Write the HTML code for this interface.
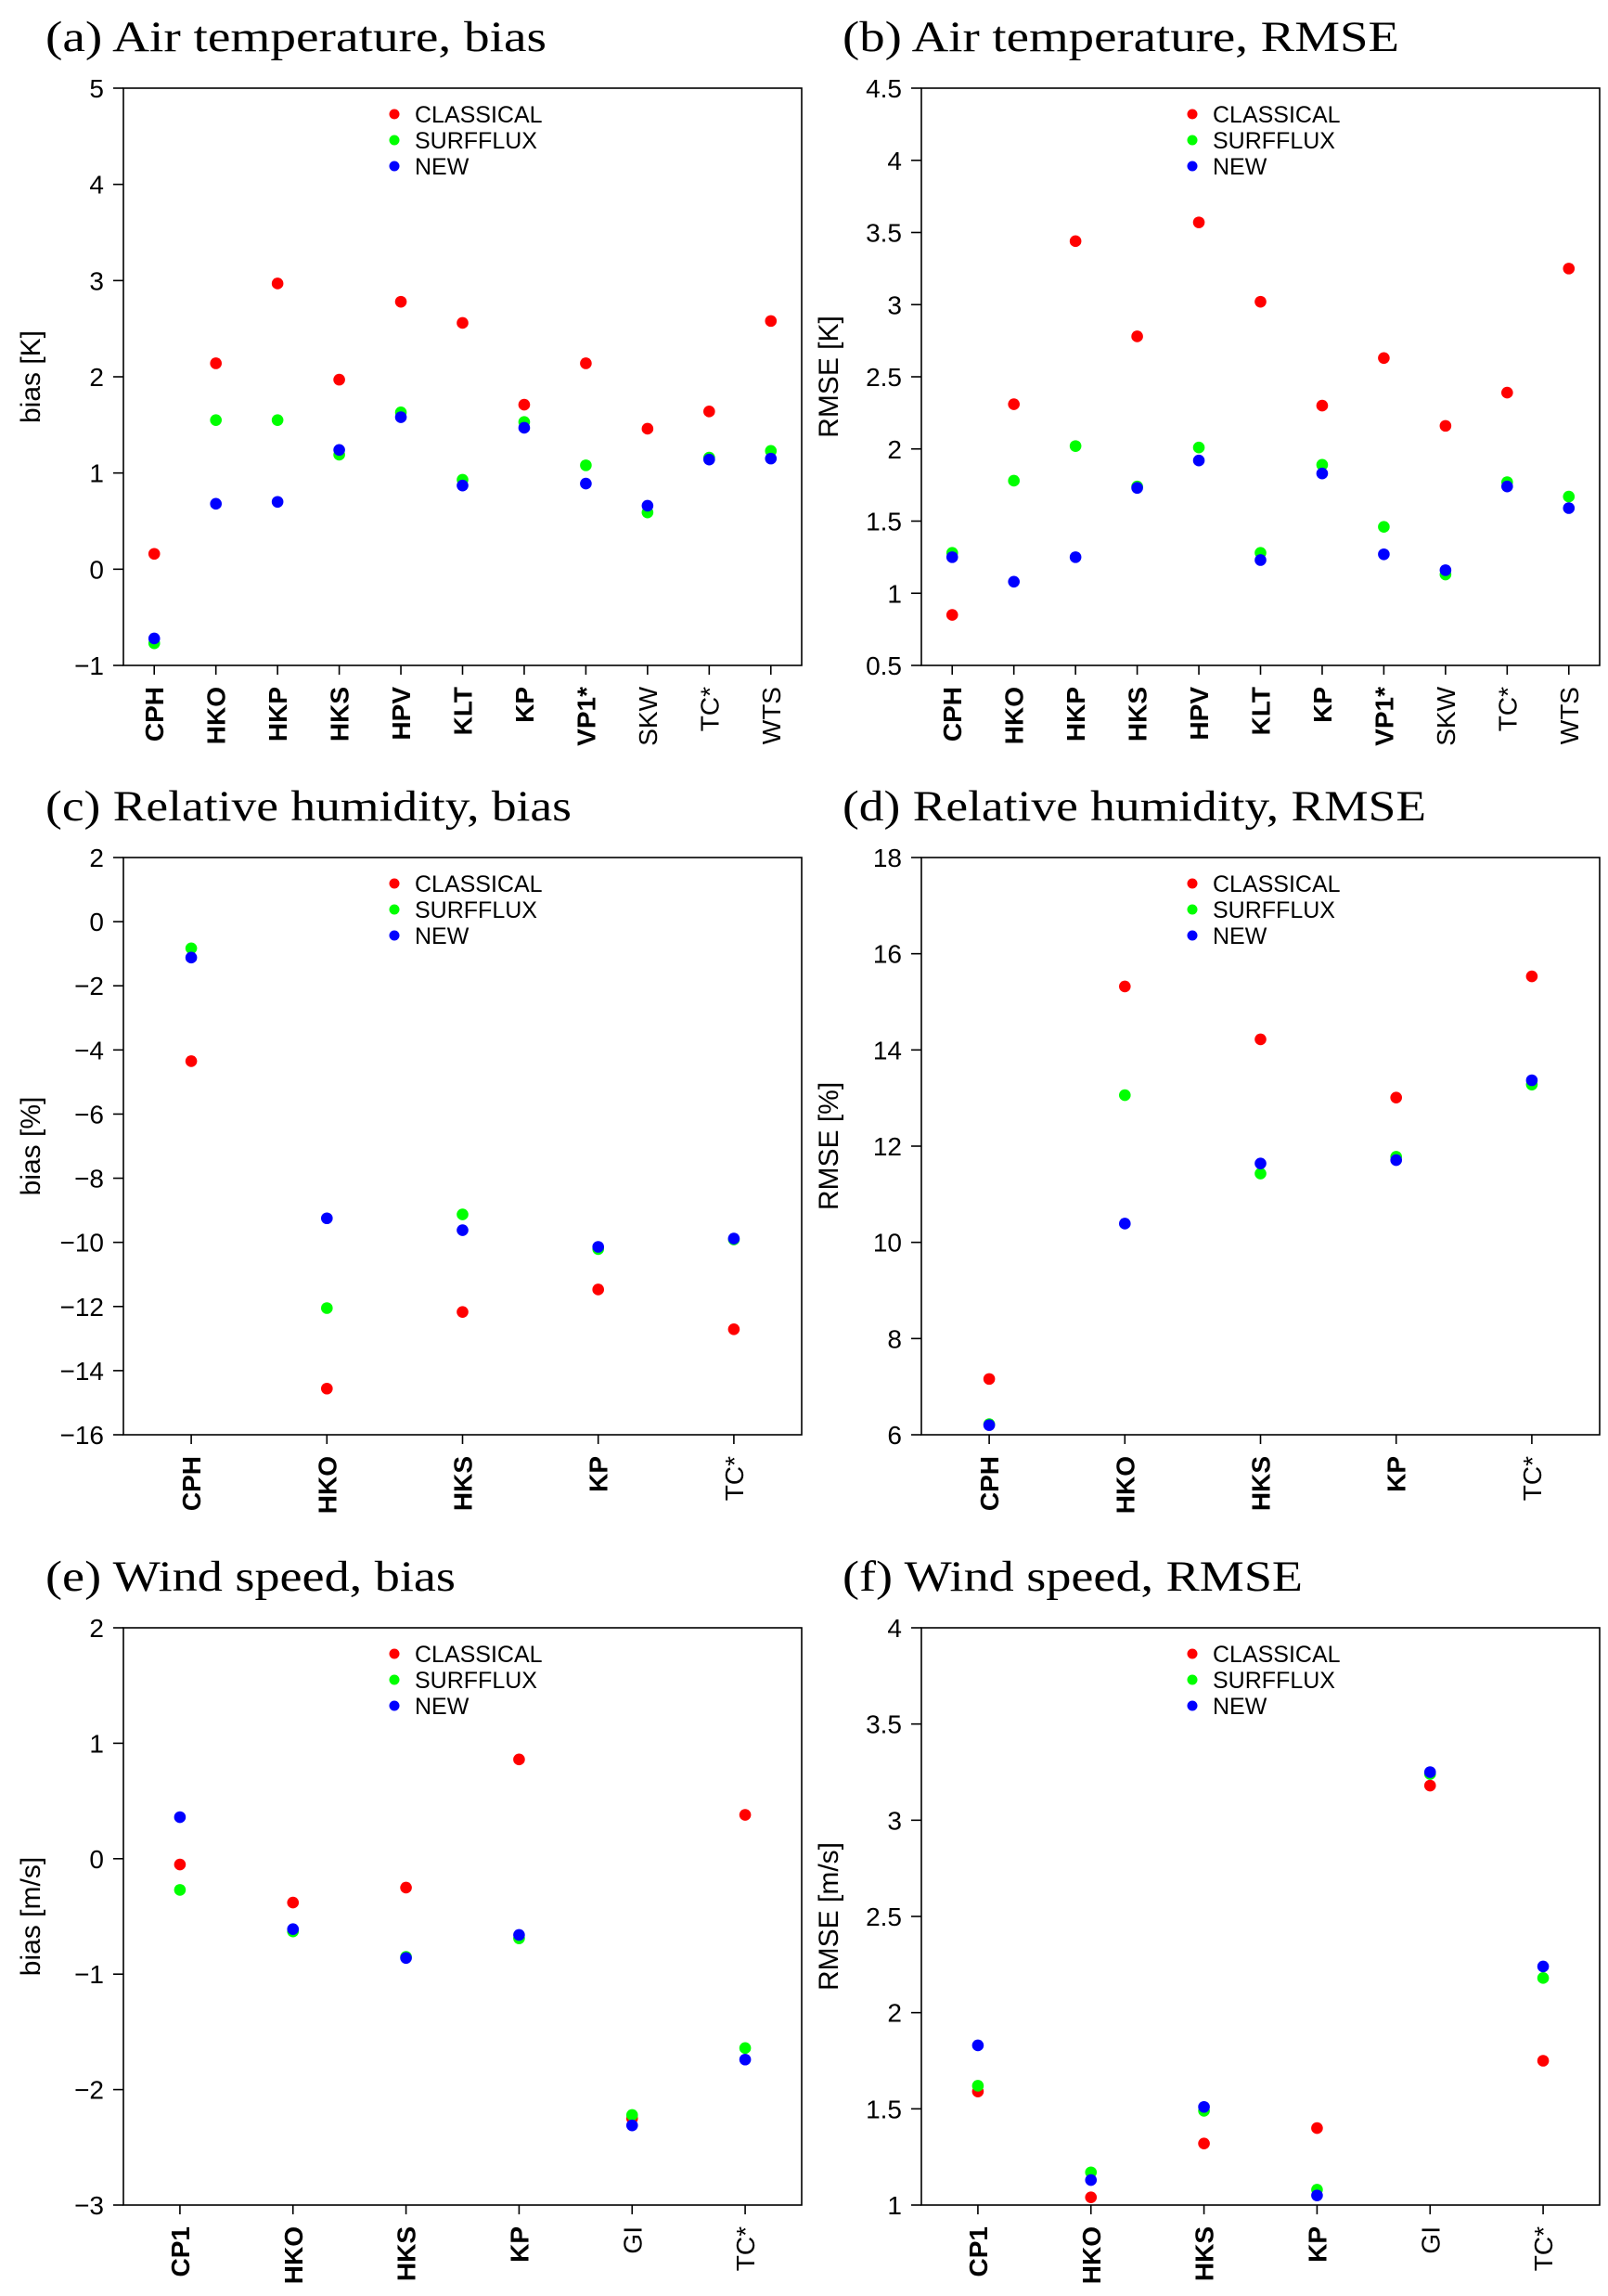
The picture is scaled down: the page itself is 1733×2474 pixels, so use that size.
<!DOCTYPE html>
<html><head><meta charset="utf-8"><style>
html,body{margin:0;padding:0;background:#fff}
svg{display:block}
</style></head><body>
<svg id="fig" width="1733" height="2474" viewBox="0 0 1733 2474" xmlns="http://www.w3.org/2000/svg"></svg>
<script>
// ---- data ----
const catsTemp = ["CPH","HKO","HKP","HKS","HPV","KLT","KP","VP1*","SKW","TC*","WTS"];
const boldTemp = [1,1,1,1,1,1,1,1,0,0,0];
const catsRH = ["CPH","HKO","HKS","KP","TC*"];
const boldRH = [1,1,1,1,0];
const catsWind = ["CP1","HKO","HKS","KP","GI","TC*"];
const boldWind = [1,1,1,1,0,0];

const aClassical = [0.16,2.14,2.97,1.97,2.78,2.56,1.71,2.14,1.46,1.64,2.58];
const aSurfflux  = [-0.77,1.55,1.55,1.19,1.63,0.93,1.53,1.08,0.59,1.16,1.23];
const aNew       = [-0.72,0.68,0.70,1.24,1.58,0.87,1.47,0.89,0.66,1.14,1.15];

const bClassical = [0.85,2.31,3.44,2.78,3.57,3.02,2.30,2.63,2.16,2.39,3.25];
const bSurfflux  = [1.28,1.78,2.02,1.74,2.01,1.28,1.89,1.46,1.13,1.77,1.67];
const bNew       = [1.25,1.08,1.25,1.73,1.92,1.23,1.83,1.27,1.16,1.74,1.59];

const cClassical = [-4.35,-14.56,-12.17,-11.47,-12.71];
const cSurfflux  = [-0.83,-12.05,-9.13,-10.21,-9.91];
const cNew       = [-1.12,-9.25,-9.62,-10.14,-9.88];

const dClassical = [7.16,15.32,14.22,13.01,15.53];
const dSurfflux  = [6.22,13.06,11.43,11.78,13.28];
const dNew       = [6.20,10.39,11.64,11.71,13.37];

const eClassical = [-0.05,-0.38,-0.25,0.86,-2.25,0.38];
const eSurfflux  = [-0.27,-0.63,-0.85,-0.69,-2.22,-1.64];
const eNew       = [0.36,-0.61,-0.86,-0.66,-2.31,-1.74];

const fClassical = [1.59,1.04,1.32,1.40,3.18,1.75];
const fSurfflux  = [1.62,1.17,1.49,1.08,3.24,2.18];
const fNew       = [1.83,1.13,1.51,1.05,3.25,2.24];

const ticksA = [-1,0,1,2,3,4,5];
const ticksB = [0.5,1,1.5,2,2.5,3,3.5,4,4.5];
const ticksC = [-16,-14,-12,-10,-8,-6,-4,-2,0,2];
const ticksD = [6,8,10,12,14,16,18];
const ticksE = [-3,-2,-1,0,1,2];
const ticksF = [1,1.5,2,2.5,3,3.5,4];

const seriesNames = ["CLASSICAL","SURFFLUX","NEW"];
const seriesColors = ["#ff0000","#00ff00","#0000ff"];

const NS = "http://www.w3.org/2000/svg";
const svg = document.getElementById("fig");
function mk(tag, attrs, parent){
  const e = document.createElementNS(NS, tag);
  for (const k in attrs) e.setAttribute(k, attrs[k]);
  (parent||svg).appendChild(e);
  return e;
}
function fmt(v){ return (v<0?"\u2212":"") + String(Math.abs(v)); }

function panel(o){
  const g = mk("g", {});
  
  
  const L=o.left, R=o.left+731, T=o.top, B=o.top+622;
  const ys = v => B - (v - o.ymin)/(o.ymax - o.ymin)*(B-T);
  const n = o.cats.length;
  const xs = i => L + (i+0.5)*(R-L)/n;

  const title = mk("text", {x:o.tx, y:T-40, "font-family":"Liberation Serif, serif", "font-size":47, fill:"#000", textLength:o.tw, lengthAdjust:"spacingAndGlyphs"}, g);
  title.textContent = o.title;
  
  

  const frame = mk("rect", {x:L, y:T, width:R-L, height:B-T, fill:"none", stroke:"#000", "stroke-width":1.6}, g);
  
  

  o.ticks.forEach(v=>{
    const y = ys(v);
    const t = mk("line", {x1:L-11, x2:L, y1:y, y2:y, stroke:"#000", "stroke-width":1.6}, g);
    
    
    const lb = mk("text", {x:L-21, y:y+10, "text-anchor":"end", "font-family":"Liberation Sans, sans-serif", "font-size":28, fill:"#000"}, g);
    lb.textContent = fmt(v);
    
    
  });

  const yt = mk("text", {x:0, y:0, transform:`translate(${L-90},${(T+B)/2}) rotate(-90)`, "text-anchor":"middle", "font-family":"Liberation Sans, sans-serif", "font-size":30, fill:"#000"}, g);
  yt.textContent = o.ytitle;
  
  

  o.cats.forEach((c,i)=>{
    const x = xs(i);
    const t = mk("line", {x1:x, x2:x, y1:B, y2:B+10, stroke:"#000", "stroke-width":1.6}, g);
    
    
    const lb = mk("text", {x:0, y:0, transform:`translate(${x+10},${B+23}) rotate(-90)`, "text-anchor":"end", "font-family":"Liberation Sans, sans-serif", "font-size":28, "font-weight":o.bold[i]?"bold":"normal", fill:"#000"}, g);
    lb.textContent = c;
    
    
  });

  o.series.forEach((vals,s)=>{
    vals.forEach((v,i)=>{
      const p = mk("circle", {cx:xs(i), cy:ys(v), r:6.3, fill:seriesColors[s]}, g);
      
      
    });
  });

  seriesNames.forEach((nm,s)=>{
    const ly = T + 28 + s*28;
    const m = mk("circle", {cx:L+292, cy:ly, r:5.5, fill:seriesColors[s]}, g);
    
    
    const lt = mk("text", {x:L+314, y:ly+9, "font-family":"Liberation Sans, sans-serif", "font-size":25, fill:"#000"}, g);
    lt.textContent = nm;
    
    
  });
}

const cl=133, cr=993;
const r1=95, r2=924, r3=1754;
panel({key:"a", left:cl, top:r1, tx:49, tw:540, title:"(a) Air temperature, bias", ytitle:"bias [K]", ymin:-1, ymax:5, ticks:ticksA, cats:catsTemp, bold:boldTemp, series:[aClassical,aSurfflux,aNew]});
panel({key:"b", left:cr, top:r1, tx:908, tw:600, title:"(b) Air temperature, RMSE", ytitle:"RMSE [K]", ymin:0.5, ymax:4.5, ticks:ticksB, cats:catsTemp, bold:boldTemp, series:[bClassical,bSurfflux,bNew]});
panel({key:"c", left:cl, top:r2, tx:49, tw:567, title:"(c) Relative humidity, bias", ytitle:"bias [%]", ymin:-16, ymax:2, ticks:ticksC, cats:catsRH, bold:boldRH, series:[cClassical,cSurfflux,cNew]});
panel({key:"d", left:cr, top:r2, tx:908, tw:629, title:"(d) Relative humidity, RMSE", ytitle:"RMSE [%]", ymin:6, ymax:18, ticks:ticksD, cats:catsRH, bold:boldRH, series:[dClassical,dSurfflux,dNew]});
panel({key:"e", left:cl, top:r3, tx:49, tw:442, title:"(e) Wind speed, bias", ytitle:"bias [m/s]", ymin:-3, ymax:2, ticks:ticksE, cats:catsWind, bold:boldWind, series:[eClassical,eSurfflux,eNew]});
panel({key:"f", left:cr, top:r3, tx:908, tw:496, title:"(f) Wind speed, RMSE", ytitle:"RMSE [m/s]", ymin:1, ymax:4, ticks:ticksF, cats:catsWind, bold:boldWind, series:[fClassical,fSurfflux,fNew]});
</script>
</body></html>
